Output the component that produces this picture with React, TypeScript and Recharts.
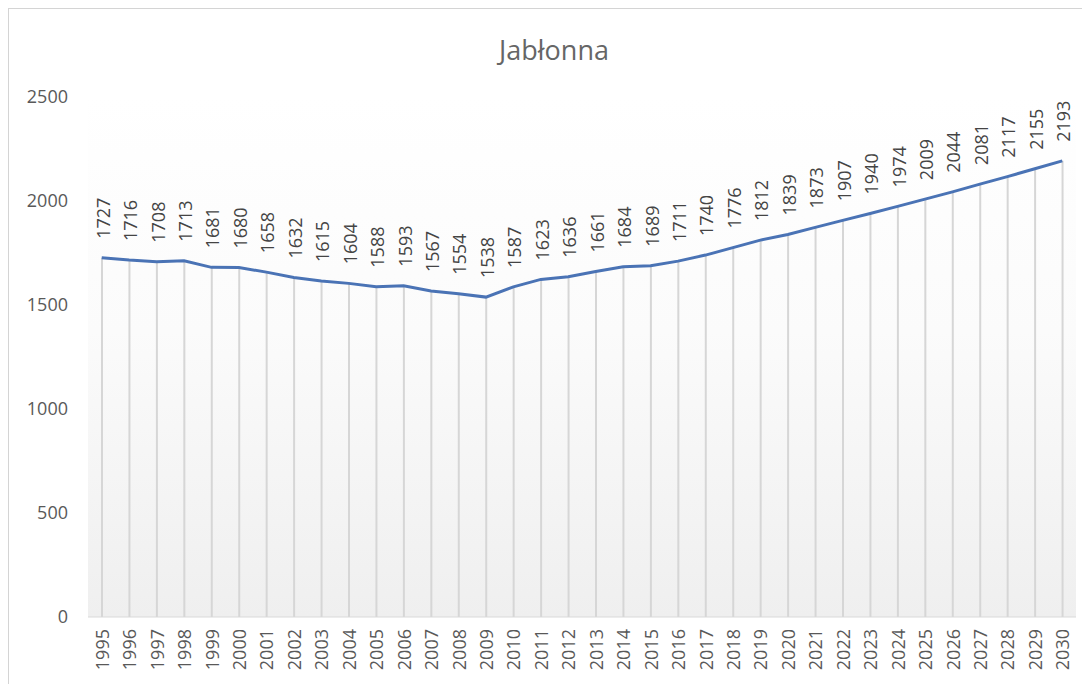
import React from "react";
import {
  ComposedChart,
  Bar,
  Line,
  XAxis,
  YAxis,
  ReferenceArea,
  LabelList,
} from "recharts";

const years = [
  "1995", "1996", "1997", "1998", "1999", "2000", "2001", "2002", "2003",
  "2004", "2005", "2006", "2007", "2008", "2009", "2010", "2011", "2012",
  "2013", "2014", "2015", "2016", "2017", "2018", "2019", "2020", "2021",
  "2022", "2023", "2024", "2025", "2026", "2027", "2028", "2029", "2030",
];

const population = [
  1727, 1716, 1708, 1713, 1681, 1680, 1658, 1632, 1615, 1604, 1588, 1593,
  1567, 1554, 1538, 1587, 1623, 1636, 1661, 1684, 1689, 1711, 1740, 1776,
  1812, 1839, 1873, 1907, 1940, 1974, 2009, 2044, 2081, 2117, 2155, 2193,
];

const yTicks = [0, 500, 1000, 1500, 2000, 2500];

const chartTitle = "Jabłonna";

const data = years.map((year, i) => ({ year, value: population[i] }));

const FONT = "'Open Sans', 'Noto Sans', sans-serif";

function YearTick(props: any) {
  const { x, y, payload } = props;
  const ty = y + 10;
  return (
    <text
      x={x}
      y={ty}
      transform={`rotate(-90, ${x}, ${ty})`}
      textAnchor="end"
      dominantBaseline="central"
      fill="#595959"
      fontSize={18}
      fontFamily={FONT}
    >
      {payload.value}
    </text>
  );
}

function ValueLabel(props: any) {
  const { x, y, value } = props;
  const lx = x + 1;
  const ly = y - 19;
  return (
    <text
      x={lx}
      y={ly}
      transform={`rotate(-90, ${lx}, ${ly})`}
      textAnchor="start"
      dominantBaseline="central"
      fill="#444444"
      fontSize={18}
      fontFamily={FONT}
    >
      {value}
    </text>
  );
}

export default function App() {
  return (
    <div
      style={{
        position: "relative",
        width: 1081,
        height: 675,
        borderLeft: "1px solid #d4d4d4",
        borderTop: "1px solid #d4d4d4",
        boxShadow: "-1px -1px 2px rgba(0,0,0,0.08)",
        background: "#fff",
        overflow: "hidden",
      }}
    >
      <div
        style={{
          position: "absolute",
          left: 0,
          top: 22,
          width: 1090,
          textAlign: "center",
          fontFamily: FONT,
          fontSize: 27,
          color: "#666666",
        }}
      >
        {chartTitle}
      </div>
      <ComposedChart
        width={1081}
        height={675}
        data={data}
        margin={{ top: 88, right: 14, bottom: 0, left: 0 }}
        style={{ position: "absolute", left: 0, top: 0 }}
      >
        <defs>
          <linearGradient id="plotBg" x1="0" y1="0" x2="0" y2="1">
            <stop offset="0%" stopColor="#ffffff" />
            <stop offset="45%" stopColor="#fbfbfb" />
            <stop offset="100%" stopColor="#efefef" />
          </linearGradient>
        </defs>
        <ReferenceArea
          y1={0}
          y2={2500}
          fill="url(#plotBg)"
          fillOpacity={1}
          stroke="none"
        />
        <XAxis
          dataKey="year"
          height={67}
          tickLine={false}
          axisLine={{ stroke: "#d9d9d9", strokeWidth: 1 }}
          tick={<YearTick />}
          interval={0}
          tickSize={0}
        />
        <YAxis
          width={79}
          domain={[0, 2500]}
          ticks={yTicks}
          axisLine={false}
          tickLine={false}
          tickSize={0}
          tickMargin={20}
          tick={{ fill: "#595959", fontSize: 18, fontFamily: FONT }}
        />
        <Bar
          dataKey="value"
          barSize={2}
          fill="#d6d6d6"
          isAnimationActive={false}
        />
        <Line
          type="linear"
          dataKey="value"
          stroke="#4a73b5"
          strokeWidth={3}
          dot={false}
          isAnimationActive={false}
        >
          <LabelList dataKey="value" content={<ValueLabel />} />
        </Line>
      </ComposedChart>
    </div>
  );
}
